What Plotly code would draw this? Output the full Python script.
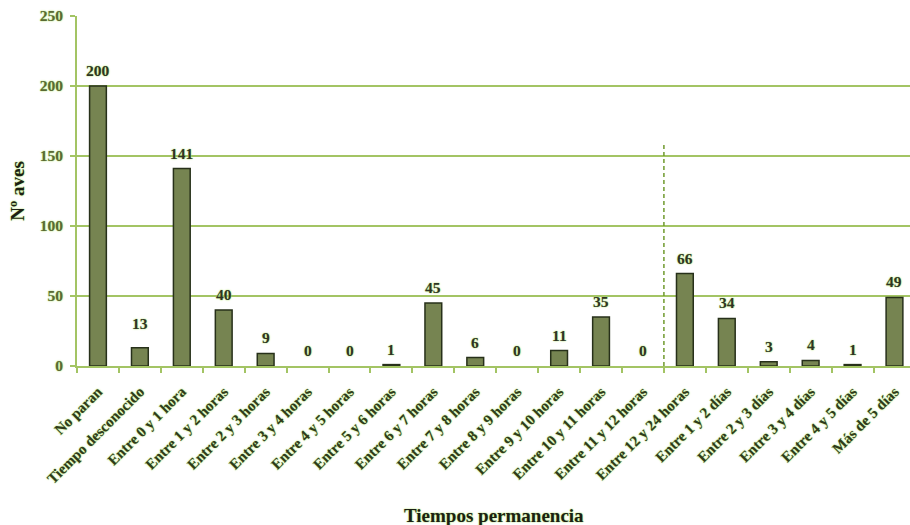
import plotly.graph_objects as go

categorias = [
    "No paran", "Tiempo desconocido", "Entre 0 y 1 hora", "Entre 1 y 2 horas",
    "Entre 2 y 3 horas", "Entre 3 y 4 horas", "Entre 4 y 5 horas", "Entre 5 y 6 horas",
    "Entre 6 y 7 horas", "Entre 7 y 8 horas", "Entre 8 y 9 horas", "Entre 9 y 10 horas",
    "Entre 10 y 11 horas", "Entre 11 y 12 horas", "Entre 12 y 24 horas", "Entre 1 y 2 días",
    "Entre 2 y 3 días", "Entre 3 y 4 días", "Entre 4 y 5 días", "Más de 5 días",
]
n_aves = [200, 13, 141, 40, 9, 0, 0, 1, 45, 6, 0, 11, 35, 0, 66, 34, 3, 4, 1, 49]
y_ticks = [0, 50, 100, 150, 200, 250]

SERIF = "Liberation Serif"
GLOW = "0px 0px 2px #b9e57c, 0px 0px 1px #b9e57c"
GRID = "#a3c464"

fig = go.Figure()
fig.add_trace(go.Bar(
    x=categorias,
    y=n_aves,
    width=0.4,
    marker=dict(
        color="#768451",
        # empty categories get no outline so nothing is drawn for them
        line=dict(color="#27301a", width=[1.5 if v > 0 else 0 for v in n_aves]),
    ),
    hoverinfo="x+y",
))

# value labels above each bar (the "Tiempo desconocido" label sits a bit higher)
for cat, v in zip(categorias, n_aves):
    fig.add_annotation(
        x=cat, y=v, xref="x", yref="y",
        text=str(v), showarrow=False,
        yanchor="bottom", yshift=5 + (9 if cat == "Tiempo desconocido" else 0),
        font=dict(family=SERIF, size=15.5, color="#2f3325", weight="bold", shadow=GLOW),
    )

# dashed separator between hours and days
fig.add_shape(
    type="line", xref="x", yref="y",
    x0=13.5, x1=13.5, y0=0, y1=158,
    line=dict(color="#6f9a2e", width=1.5, dash="4px,3px"),
)

# x-axis title placed below the rotated category labels
fig.add_annotation(
    xref="paper", yref="paper", x=0.5, y=0, yshift=-149,
    text="Tiempos permanencia", showarrow=False, yanchor="middle",
    font=dict(family=SERIF, size=19, color="#1c1f14", weight="bold", shadow=GLOW),
)

fig.update_layout(
    width=910, height=525,
    margin=dict(l=77, r=0, t=16, b=159),
    plot_bgcolor="white", paper_bgcolor="white",
    showlegend=False,
    font=dict(family=SERIF),
    xaxis=dict(
        range=[-0.5, 19.37],
        tickangle=-45,
        tickson="boundaries",
        ticks="outside", ticklen=5, tickcolor=GRID, tickwidth=2,
        ticklabelstandoff=9,
        showline=True, linecolor=GRID, linewidth=2,
        showgrid=False,
        tickfont=dict(family=SERIF, size=15, color="#2f3a1c", weight="bold", shadow=GLOW),
    ),
    yaxis=dict(
        range=[0, 250],
        tickvals=y_ticks,
        ticks="outside", ticklen=5, tickcolor=GRID, tickwidth=2,
        ticklabelstandoff=4,
        showline=True, linecolor=GRID, linewidth=2,
        showgrid=True, gridcolor=GRID, gridwidth=2,
        zeroline=False,
        tickfont=dict(family=SERIF, size=15.5, color="#5a6a34", weight="bold", shadow=GLOW),
        title=dict(
            text="Nº aves", standoff=10,
            font=dict(family=SERIF, size=19, color="#1c1f14", weight="bold", shadow=GLOW),
        ),
    ),
)

fig.write_html("out.html")
